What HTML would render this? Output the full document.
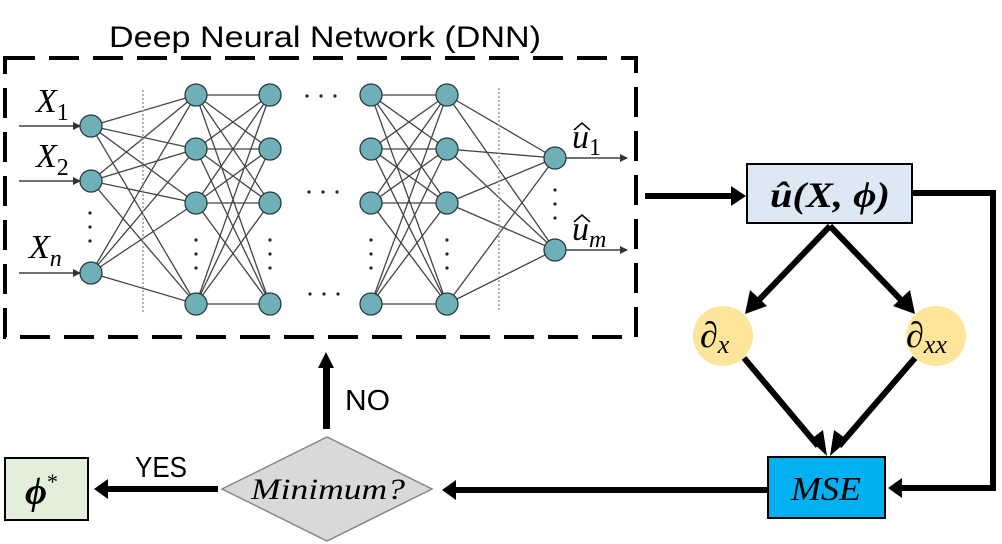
<!DOCTYPE html>
<html><head><meta charset="utf-8"><style>
html,body{margin:0;padding:0;background:#fff}
svg{display:block}
.m{font-family:"Liberation Serif",serif;font-style:italic}
.s{font-family:"Liberation Sans",sans-serif}
</style></head><body>
<svg width="1002" height="544" viewBox="0 0 1002 544" xmlns="http://www.w3.org/2000/svg">
<defs>
<marker id="ga" markerWidth="8" markerHeight="8" refX="7" refY="4" orient="auto" markerUnits="userSpaceOnUse"><path d="M0,0L8,4L0,8z" fill="#333"/></marker>
</defs>
<text x="109" y="47" class="s" font-size="30" textLength="432" lengthAdjust="spacingAndGlyphs">Deep Neural Network (DNN)</text>
<rect x="5" y="58" width="631" height="279" fill="none" stroke="#000" stroke-width="4" stroke-dasharray="30 14"/>
<path stroke="#444" stroke-width="1.3" fill="none" d="
M91 126L196 95M91 126L196 149M91 126L196 203M91 126L196 304
M91 181L196 95M91 181L196 149M91 181L196 203M91 181L196 304
M91 273L196 95M91 273L196 149M91 273L196 203M91 273L196 304
M196 95L270 95M196 95L270 149M196 95L270 203M196 95L270 304
M196 149L270 95M196 149L270 149M196 149L270 203M196 149L270 304
M196 203L270 95M196 203L270 149M196 203L270 203M196 203L270 304
M196 304L270 95M196 304L270 149M196 304L270 203M196 304L270 304
M371 95L447 95M371 95L447 149M371 95L447 203M371 95L447 304
M371 149L447 95M371 149L447 149M371 149L447 203M371 149L447 304
M371 203L447 95M371 203L447 149M371 203L447 203M371 203L447 304
M371 304L447 95M371 304L447 149M371 304L447 203M371 304L447 304
M447 95L555 158M447 95L555 250M447 149L555 158M447 149L555 250
M447 203L555 158M447 203L555 250M447 304L555 158M447 304L555 250"/>
<line x1="143" y1="90" x2="143" y2="313" stroke="#999" stroke-width="1.5" stroke-dasharray="2 2"/>
<line x1="499" y1="88" x2="499" y2="310" stroke="#999" stroke-width="1.5" stroke-dasharray="2 2"/>
<g stroke="#444" stroke-width="1.5" marker-end="url(#ga)">
<line x1="19" y1="126" x2="80" y2="126"/><line x1="19" y1="181" x2="80" y2="181"/><line x1="19" y1="273" x2="80" y2="273"/>
<line x1="566" y1="158" x2="627" y2="158"/><line x1="566" y1="250" x2="627" y2="250"/>
</g>
<g fill="#6fb0b8" stroke="#2a3a3c" stroke-width="1.3">
<circle cx="91" cy="126" r="11"/><circle cx="91" cy="181" r="11"/><circle cx="91" cy="273" r="11"/>
<circle cx="196" cy="95" r="11"/><circle cx="196" cy="149" r="11"/><circle cx="196" cy="203" r="11"/><circle cx="196" cy="304" r="11"/>
<circle cx="270" cy="95" r="11"/><circle cx="270" cy="149" r="11"/><circle cx="270" cy="203" r="11"/><circle cx="270" cy="304" r="11"/>
<circle cx="371" cy="95" r="11"/><circle cx="371" cy="149" r="11"/><circle cx="371" cy="203" r="11"/><circle cx="371" cy="304" r="11"/>
<circle cx="447" cy="95" r="11"/><circle cx="447" cy="149" r="11"/><circle cx="447" cy="203" r="11"/><circle cx="447" cy="304" r="11"/>
<circle cx="555" cy="158" r="11"/><circle cx="555" cy="250" r="11"/>
</g>
<g fill="#222">
<circle cx="90" cy="213" r="1.6"/><circle cx="90" cy="227" r="1.6"/><circle cx="90" cy="241" r="1.6"/>
<circle cx="196" cy="240" r="1.6"/><circle cx="196" cy="254" r="1.6"/><circle cx="196" cy="268" r="1.6"/>
<circle cx="270" cy="240" r="1.6"/><circle cx="270" cy="254" r="1.6"/><circle cx="270" cy="268" r="1.6"/>
<circle cx="371" cy="240" r="1.6"/><circle cx="371" cy="254" r="1.6"/><circle cx="371" cy="268" r="1.6"/>
<circle cx="447" cy="240" r="1.6"/><circle cx="447" cy="254" r="1.6"/><circle cx="447" cy="268" r="1.6"/>
<circle cx="555" cy="190" r="1.6"/><circle cx="555" cy="204" r="1.6"/><circle cx="555" cy="218" r="1.6"/>
<circle cx="307" cy="96" r="1.6"/><circle cx="321" cy="96" r="1.6"/><circle cx="335" cy="96" r="1.6"/>
<circle cx="309" cy="192" r="1.6"/><circle cx="323" cy="192" r="1.6"/><circle cx="337" cy="192" r="1.6"/>
<circle cx="310" cy="294" r="1.6"/><circle cx="324" cy="294" r="1.6"/><circle cx="338" cy="294" r="1.6"/>
</g>
<g class="m" font-size="34">
<text x="36" y="112">X<tspan font-style="normal" font-size="24" dy="8">1</tspan></text>
<text x="36" y="167">X<tspan font-style="normal" font-size="24" dy="8">2</tspan></text>
<text x="29" y="258">X<tspan font-size="24" dy="8">n</tspan></text>
<text x="572" y="148">u<tspan font-style="normal" font-size="24" dy="7">1</tspan></text>
<text x="572" y="240">u<tspan font-size="24" dy="7">m</tspan></text>
</g>
<path d="M574,130L582,123L590,130M574,222L582,215L590,222" fill="none" stroke="#000" stroke-width="1.5"/>
<rect x="645" y="193" width="88" height="6" fill="#000"/>
<path d="M731,186L746,196L731,206z" fill="#000"/>
<rect x="747" y="164" width="165" height="59" fill="#dde8f5" stroke="#000" stroke-width="2"/>
<text x="770" y="207" class="m" font-size="36" font-weight="bold" textLength="120" lengthAdjust="spacingAndGlyphs">û(X, ϕ)</text>
<path d="M913,193L993,193L993,488L898,488" fill="none" stroke="#000" stroke-width="6"/>
<path d="M888,488L902,478L902,498z" fill="#000"/>
<g stroke="#000" stroke-width="6">
<line x1="830" y1="226" x2="758" y2="301"/>
<line x1="830" y1="226" x2="902" y2="301"/>
<line x1="744" y1="358" x2="818" y2="446"/>
<line x1="915" y1="358" x2="839" y2="446"/>
</g>
<path d="M745,314L750,290L767,306z" fill="#000"/>
<path d="M915,314L893,306L910,290z" fill="#000"/>
<path d="M827,456L810,440L823,430z" fill="#000"/>
<path d="M830,456L834,430L848,440z" fill="#000"/>
<circle cx="723" cy="336" r="30" fill="#fee599"/>
<circle cx="936" cy="336" r="30" fill="#fee599"/>
<text x="700" y="347" class="m" font-size="36">∂<tspan font-size="26" dy="6">x</tspan></text>
<text x="906" y="347" class="m" font-size="36">∂<tspan font-size="26" dy="6">xx</tspan></text>
<rect x="768" y="457" width="117" height="61" fill="#00b0f0" stroke="#000" stroke-width="2"/>
<text x="791" y="500" class="m" font-size="34" textLength="70" lengthAdjust="spacingAndGlyphs">MSE</text>
<rect x="455" y="487" width="312" height="6" fill="#000"/>
<path d="M442,490L456,480L456,500z" fill="#000"/>
<path d="M222,489L327,437L432,489L327,541z" fill="#d9d9d9" stroke="#888" stroke-width="1.5"/>
<text x="251" y="499" class="m" font-size="30" textLength="154" lengthAdjust="spacingAndGlyphs">Minimum?</text>
<rect x="323" y="366" width="7" height="63" fill="#000"/>
<path d="M326,352L318,368L334,368z" fill="#000"/>
<text x="345" y="410" class="s" font-size="29" textLength="45" lengthAdjust="spacingAndGlyphs">NO</text>
<rect x="108" y="486" width="110" height="6" fill="#000"/>
<path d="M94,489L108,479L108,499z" fill="#000"/>
<text x="135" y="477" class="s" font-size="29" textLength="52" lengthAdjust="spacingAndGlyphs">YES</text>
<rect x="5" y="458" width="83" height="62" fill="#e2efda" stroke="#000" stroke-width="2"/>
<text x="25" y="504" class="m" font-size="38" font-weight="bold">ϕ<tspan font-weight="normal" font-style="normal" font-size="22" dy="-15">*</tspan></text>
</svg>
</body></html>
